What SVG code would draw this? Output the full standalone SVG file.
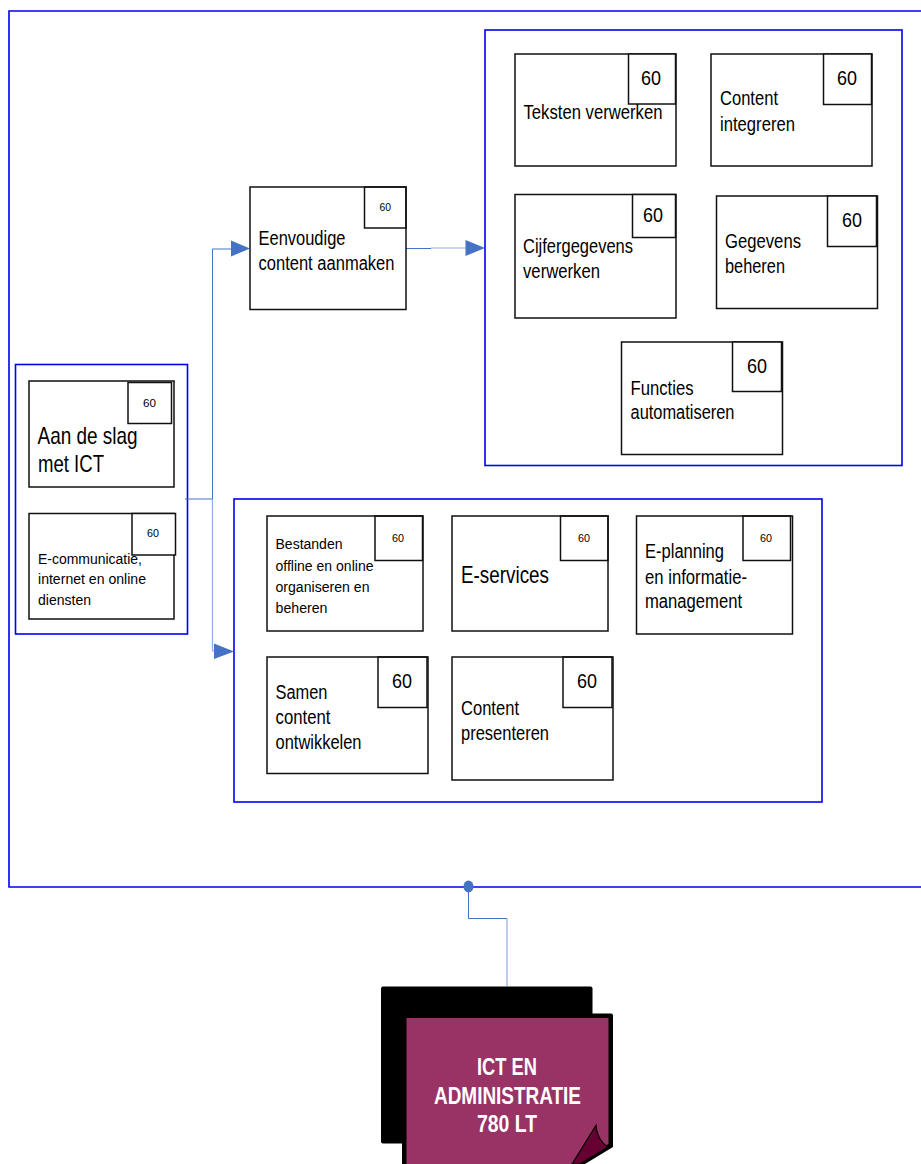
<svg xmlns="http://www.w3.org/2000/svg" width="921" height="1164" viewBox="0 0 921 1164">
<style>
.c{fill:#fff;stroke:#0000f0;stroke-width:1.6}
.b{fill:#fff;stroke:#111;stroke-width:1.5}
.n{fill:none;stroke:#111;stroke-width:1.5}
text{font-family:"Liberation Sans",Arial,sans-serif;fill:#000}
.l{fill:none;stroke:#4472c4;stroke-width:1}
.m{fill:none;stroke:#8faadc;stroke-width:1.2}
.a{fill:#4472c4}
.f18{font-size:19.500px}.f14{font-size:15.500px}.f22{font-size:24px}.f10{font-size:10.500px}
</style>
<rect width="921" height="1164" fill="#fff"/>
<path class="c" fill="none" d="M925 11H9V887H925"/>
<rect id="group-a" class="c" x="485" y="30" width="417" height="435.500"/>
<rect id="group-b" class="c" x="234" y="499" width="588" height="303"/>
<rect id="group-c" class="c" x="15.500" y="364.500" width="172" height="269.500"/>
<g id="connectors">
<path class="l" d="M185 499H212.500V249H232"/>
<path class="m" d="M212.500 499V651H215"/>
<path class="l" d="M406 248.500H431"/>
<path class="m" d="M431 248H466"/>
<path class="l" d="M468.500 887V918.500H507"/>
<path class="m" d="M507 918.500V986"/>
<path class="a" d="M231 240.500L250 248.500L231 256.500Z"/>
<path class="a" d="M465.500 240L485 248L465.500 256Z"/>
<path class="a" d="M214 643.500L234 651.500L214 659Z"/>
<ellipse class="a" cx="468.500" cy="886.500" rx="5" ry="6"/>
</g>
<g id="node-aan"><rect class="b" x="29" y="381" width="145" height="106"/><rect class="b" x="128" y="382.500" width="43.500" height="41"/><text class="f10" x="143" y="406.500" textLength="13" lengthAdjust="spacingAndGlyphs">60</text>
<text class="f22" x="37.500" y="444" textLength="100" lengthAdjust="spacingAndGlyphs">Aan de slag</text><text class="f22" x="38" y="472" textLength="66" lengthAdjust="spacingAndGlyphs">met ICT</text></g>
<g id="node-ecomm"><rect class="b" x="29" y="513.500" width="145" height="105.500"/><rect class="b" x="132" y="513.500" width="43.500" height="41.500"/><text class="f10" x="147" y="537" textLength="12" lengthAdjust="spacingAndGlyphs">60</text>
<text class="f14" x="38" y="564" textLength="104" lengthAdjust="spacingAndGlyphs">E-communicatie,</text><text class="f14" x="38" y="584" textLength="108" lengthAdjust="spacingAndGlyphs">internet en online</text><text class="f14" x="38" y="605" textLength="53" lengthAdjust="spacingAndGlyphs">diensten</text></g>
<g id="node-eenvoudig"><rect class="b" x="250" y="187" width="156" height="122.500"/><rect class="n" x="364.500" y="187" width="41.500" height="41"/><text class="f10" x="379.500" y="210.500" textLength="11.500" lengthAdjust="spacingAndGlyphs">60</text>
<text class="f18" x="258.500" y="244.500" textLength="87" lengthAdjust="spacingAndGlyphs">Eenvoudige</text><text class="f18" x="258.500" y="269.500" textLength="136" lengthAdjust="spacingAndGlyphs">content aanmaken</text></g>
<g id="node-teksten"><rect class="b" x="515" y="54" width="161" height="112"/><rect class="b" x="628.500" y="54" width="47" height="50"/><text class="f18" x="641" y="85" textLength="20" lengthAdjust="spacingAndGlyphs">60</text>
<text class="f18" x="523.500" y="118.500" textLength="139" lengthAdjust="spacingAndGlyphs">Teksten verwerken</text></g>
<g id="node-integreren"><rect class="b" x="711" y="54" width="161" height="112"/><rect class="b" x="823.500" y="54" width="48" height="50.500"/><text class="f18" x="837" y="85" textLength="20" lengthAdjust="spacingAndGlyphs">60</text>
<text class="f18" x="720" y="105" textLength="58" lengthAdjust="spacingAndGlyphs">Content</text><text class="f18" x="720" y="130.500" textLength="75" lengthAdjust="spacingAndGlyphs">integreren</text></g>
<g id="node-cijfers"><rect class="b" x="515" y="194.500" width="161" height="123.500"/><rect class="b" x="632.500" y="194.500" width="43" height="43"/><text class="f18" x="643" y="222" textLength="20" lengthAdjust="spacingAndGlyphs">60</text>
<text class="f18" x="523" y="253" textLength="110" lengthAdjust="spacingAndGlyphs">Cijfergegevens</text><text class="f18" x="523" y="278" textLength="77" lengthAdjust="spacingAndGlyphs">verwerken</text></g>
<g id="node-gegevens"><rect class="b" x="716.500" y="196" width="161" height="112.500"/><rect class="b" x="827.500" y="196" width="49" height="50.500"/><text class="f18" x="842" y="227" textLength="20" lengthAdjust="spacingAndGlyphs">60</text>
<text class="f18" x="725" y="247.500" textLength="76" lengthAdjust="spacingAndGlyphs">Gegevens</text><text class="f18" x="725" y="273" textLength="60" lengthAdjust="spacingAndGlyphs">beheren</text></g>
<g id="node-functies"><rect class="b" x="621.500" y="342" width="161" height="112.500"/><rect class="b" x="732.500" y="342" width="49" height="49.500"/><text class="f18" x="747" y="373" textLength="20" lengthAdjust="spacingAndGlyphs">60</text>
<text class="f18" x="630.500" y="394.500" textLength="63" lengthAdjust="spacingAndGlyphs">Functies</text><text class="f18" x="630.500" y="418.500" textLength="104" lengthAdjust="spacingAndGlyphs">automatiseren</text></g>
<g id="node-bestanden"><rect class="b" x="267" y="516" width="156" height="115"/><rect class="n" x="375" y="516" width="47.500" height="44.500"/><text class="f10" x="392" y="541.500" textLength="12" lengthAdjust="spacingAndGlyphs">60</text>
<text class="f14" x="275.500" y="549" textLength="67" lengthAdjust="spacingAndGlyphs">Bestanden</text><text class="f14" x="275.500" y="570.500" textLength="98" lengthAdjust="spacingAndGlyphs">offline en online</text><text class="f14" x="275.500" y="591.500" textLength="94" lengthAdjust="spacingAndGlyphs">organiseren en</text><text class="f14" x="275.500" y="613" textLength="52" lengthAdjust="spacingAndGlyphs">beheren</text></g>
<g id="node-eservices"><rect class="b" x="452" y="516" width="156" height="115"/><rect class="n" x="560.500" y="516" width="47.500" height="44.500"/><text class="f10" x="578" y="541.500" textLength="12" lengthAdjust="spacingAndGlyphs">60</text>
<text class="f22" x="461" y="583" textLength="88" lengthAdjust="spacingAndGlyphs">E-services</text></g>
<g id="node-eplanning"><rect class="b" x="636.500" y="516" width="156" height="118"/><rect class="n" x="743" y="516" width="47.500" height="44.500"/><text class="f10" x="760" y="541.500" textLength="12" lengthAdjust="spacingAndGlyphs">60</text>
<text class="f18" x="645" y="558" textLength="79" lengthAdjust="spacingAndGlyphs">E-planning</text><text class="f18" x="645" y="583.500" textLength="102" lengthAdjust="spacingAndGlyphs">en informatie-</text><text class="f18" x="645" y="608" textLength="97" lengthAdjust="spacingAndGlyphs">management</text></g>
<g id="node-samen"><rect class="b" x="267" y="657" width="161" height="116.500"/><rect class="n" x="378" y="657" width="49" height="50.500"/><text class="f18" x="392" y="688" textLength="20" lengthAdjust="spacingAndGlyphs">60</text>
<text class="f18" x="275.500" y="698.500" textLength="52" lengthAdjust="spacingAndGlyphs">Samen</text><text class="f18" x="275.500" y="723.500" textLength="55" lengthAdjust="spacingAndGlyphs">content</text><text class="f18" x="275.500" y="748.500" textLength="86" lengthAdjust="spacingAndGlyphs">ontwikkelen</text></g>
<g id="node-presenteren"><rect class="b" x="452" y="657" width="161" height="123"/><rect class="n" x="563" y="657" width="49" height="50.500"/><text class="f18" x="577" y="688" textLength="20" lengthAdjust="spacingAndGlyphs">60</text>
<text class="f18" x="461" y="714.500" textLength="58" lengthAdjust="spacingAndGlyphs">Content</text><text class="f18" x="461" y="739.500" textLength="88" lengthAdjust="spacingAndGlyphs">presenteren</text></g>
<g id="node-main">
<rect x="381" y="986.500" width="211.500" height="157" rx="2" fill="#000"/>
<path d="M402 1164V1013.500H611Q613 1013.500 613 1015.500V1147L585 1164Z" fill="#000"/>
<path d="M406.500 1164V1018H608.500V1144L572 1164Z" fill="#993366"/>
<path d="M572 1164L596 1125.500Q597 1140 608 1147L580 1164Z" fill="#660033" stroke="#000" stroke-width="1.200"/>
<g style="font-weight:bold;font-size:23px;text-anchor:middle"><text x="507" y="1075" style="fill:#fff" textLength="60" lengthAdjust="spacingAndGlyphs">ICT EN</text><text x="507.500" y="1104" style="fill:#fff" textLength="147" lengthAdjust="spacingAndGlyphs">ADMINISTRATIE</text><text x="507" y="1132" style="fill:#fff" textLength="60" lengthAdjust="spacingAndGlyphs">780 LT</text></g>
</g>
</svg>
